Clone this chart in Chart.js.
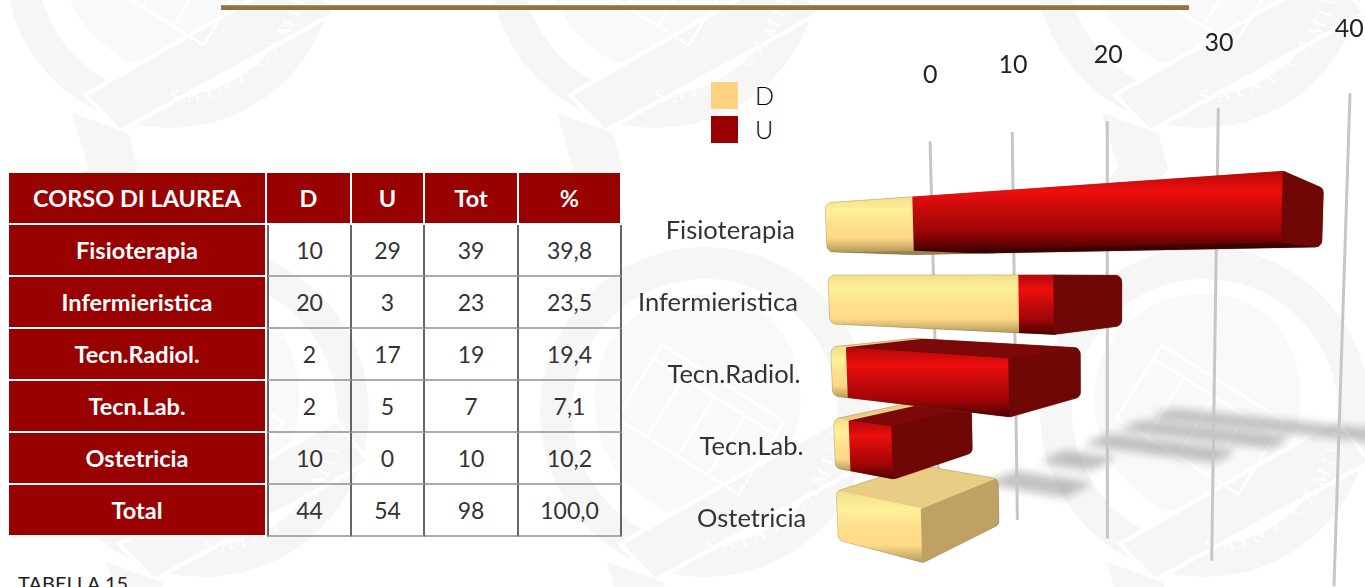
<!DOCTYPE html>
<html>
<head>
<meta charset="utf-8">
<title>Corso di laurea</title>
<script src="https://cdn.jsdelivr.net/npm/chart.js@4"></script>
<style>
    html, body { margin: 0; padding: 0; background: #fff; overflow: hidden; }
    body { position: relative; width: 1365px; height: 587px; font-family: Lato, sans-serif; }
    #seals { position: absolute; left: 0; top: 0; }
    #rule { position: absolute; left: 221px; top: 5px; width: 968px; height: 5px; background: #8c7542; border-top: 1px solid #a8935f; box-sizing: border-box; }
    #chart { position: absolute; left: 640px; top: 0; }
    #legend { position: absolute; left: 711px; top: 82px; }
    #legend div { position: relative; height: 27px; margin-bottom: 7px; }
    #legend i { position: absolute; left: 0; top: 0; width: 27px; height: 27px; }
    #legend span { position: absolute; left: 44px; top: 0; font-size: 25px; line-height: 27px; font-weight: 300; color: #000; }
    #dati { position: absolute; left: 9px; top: 173px; border-collapse: separate; border-spacing: 0; table-layout: fixed; width: 613px; }
    #dati th, #dati td { padding: 0; text-align: center; box-sizing: border-box; font-size: 23px; }
    #dati th { background: #990000; color: #fff; font-weight: 700; font-size: 23.5px; border-right: 2px solid #fff; border-bottom: 2px solid #fff; height: 52px; }
    #dati td { color: #333; height: 52px; border-right: 2px solid #666; border-bottom: 2px solid #aaa; }
    #dati tbody td:first-of-type { border-left: 2px solid #666; }
    #caption { position: absolute; left: 18px; top: 571px; font-size: 20px; color: #222; }
</style>
</head>
<body>
<svg id="seals" width="1365" height="587"></svg>
<div id="rule"></div>
<table id="dati"></table>
<div id="caption">TABELLA 15</div>
<div id="legend"></div>
<canvas id="chart" width="725" height="587"></canvas>

<script>
    // ===== Data =====
    const categories = ['Fisioterapia', 'Infermieristica', 'Tecn.Radiol.', 'Tecn.Lab.', 'Ostetricia'];
    const valuesD = [10, 20, 2, 2, 10];
    const valuesU = [29, 3, 17, 5, 0];
    const valuesTot = [39, 23, 19, 7, 10];
    const percentLabels = ['39,8', '23,5', '19,4', '7,1', '10,2'];
    const totalRow = ['Total', '44', '54', '98', '100,0'];
    const tableHead = ['CORSO DI LAUREA', 'D', 'U', 'Tot', '%'];
    const xTicks = [0, 10, 20, 30, 40];

    const colorD = '#ffd27f';
    const colorU = '#990000';

    // ===== Table =====
    const colWidths = [258, 85, 73, 94, 103];
    let html = '<colgroup>' + colWidths.map(w => '<col style="width:' + w + 'px">').join('') + '</colgroup>';
    html += '<thead><tr>' + tableHead.map(t => '<th>' + t + '</th>').join('') + '</tr></thead><tbody>';
    categories.forEach((name, i) => {
        html += '<tr><th>' + name + '</th><td>' + valuesD[i] + '</td><td>' + valuesU[i] + '</td><td>' +
            valuesTot[i] + '</td><td>' + percentLabels[i] + '</td></tr>';
    });
    html += '<tr><th>' + totalRow[0] + '</th>' + totalRow.slice(1).map(t => '<td>' + t + '</td>').join('') + '</tr></tbody>';
    document.getElementById('dati').innerHTML = html;

    // ===== Legend =====
    document.getElementById('legend').innerHTML =
        '<div><i style="background:' + colorD + '"></i><span>D</span></div>' +
        '<div><i style="background:' + colorU + '"></i><span>U</span></div>';

    // ===== Background seals =====
    const sealCentres = [[170, -37], [655, -37], [1200, -37], [204, 412], [705, 412], [1205, 412]];
    let seals = '<defs><path id="arc" d="M -140 0 A 140 140 0 0 0 140 0"/></defs>';
    sealCentres.forEach(c => {
        seals += '<g transform="translate(' + c[0] + ' ' + c[1] + ')">' +
            '<circle r="149" fill="none" stroke="#f6f6f6" stroke-width="32"/>' +
            '<path d="M 0 -118 C 70 -118 100 -60 95 0 C 90 50 40 85 -40 100 C -90 70 -115 30 -110 -30 C -100 -80 -60 -118 0 -118 Z" fill="#f9f9f9"/>' +
            '<path d="M -85 132 L -50 168 L 165 50 L 132 8 Z" fill="#f6f6f6" stroke="#fff" stroke-width="4"/>' +
            '<path d="M -98 150 L -42 170 L -32 206 L -72 250 L -125 250 L -82 205 Z" fill="#f6f6f6"/>' +
            '<g transform="rotate(32)" fill="none" stroke="#fff" stroke-width="2.5">' +
            '<path d="M -72 -34 L 72 -34 L 72 52 L -72 52 Z"/><path d="M -72 -18 L 72 -18 M -36 -18 L -36 52 M 0 -18 L 0 52 M 36 -18 L 36 52"/>' +
            '</g>' +
            '<text font-family="Liberation Serif" font-size="20" fill="#ffffff" letter-spacing="6"><textPath href="#arc" startOffset="50%">SAINT CAMILLUS</textPath></text>' +
            '</g>';
    });
    document.getElementById('seals').innerHTML = seals;

    // ===== Perspective of the 3D chart =====
    const CANVAS_LEFT = 640;
    const ORIGIN_X = 830, HORIZON = 275, HEIGHT_SCALE = 1030;
    const PERSP_U = 0.3136, PERSP_D = 0.175, RUN_U = 320.4, RUN_D = 120, TILT = 0.00014;

    function flatX(u, d) {
        return ORIGIN_X + (RUN_U * u + RUN_D * d) / (1 - PERSP_U * u + PERSP_D * d);
    }

    function project(u, h, d) {
        const y = HORIZON + h * HEIGHT_SCALE / (1 - PERSP_U * u + PERSP_D * d);
        let x = flatX(u, d);
        x -= (x - 1110) * (y - 330) * TILT;
        return [x - CANVAS_LEFT, y];
    }

    function quad(ctx, pts, fill) {
        ctx.beginPath();
        pts.forEach((p, i) => i ? ctx.lineTo(p[0], p[1]) : ctx.moveTo(p[0], p[1]));
        ctx.closePath();
        ctx.fillStyle = fill;
        ctx.strokeStyle = fill;
        ctx.lineWidth = 2;
        ctx.lineJoin = 'round';
        ctx.fill();
        ctx.stroke();
    }

    function vGradient(ctx, top, bottom, stops) {
        const g = ctx.createLinearGradient(0, top, 0, bottom);
        stops.forEach((s, i) => g.addColorStop(i / (stops.length - 1), s));
        return g;
    }

    // outline of a bar, so the corners can be rounded like in the picture
    function convexHull(points) {
        const pts = points.slice().sort((a, b) => a[0] - b[0] || a[1] - b[1]);
        const cross = (o, a, b) => (a[0] - o[0]) * (b[1] - o[1]) - (a[1] - o[1]) * (b[0] - o[0]);
        const lower = [], upper = [];
        pts.forEach(p => {
            while (lower.length > 1 && cross(lower[lower.length - 2], lower[lower.length - 1], p) <= 0) lower.pop();
            lower.push(p);
        });
        pts.slice().reverse().forEach(p => {
            while (upper.length > 1 && cross(upper[upper.length - 2], upper[upper.length - 1], p) <= 0) upper.pop();
            upper.push(p);
        });
        return lower.slice(0, -1).concat(upper.slice(0, -1));
    }

    function roundedPath(ctx, pts, radius) {
        const n = pts.length;
        ctx.beginPath();
        ctx.moveTo((pts[n - 1][0] + pts[0][0]) / 2, (pts[n - 1][1] + pts[0][1]) / 2);
        pts.forEach((p, i) => {
            const next = pts[(i + 1) % n];
            ctx.arcTo(p[0], p[1], (p[0] + next[0]) / 2, (p[1] + next[1]) / 2, radius);
        });
        ctx.closePath();
    }

    const BAR_DEPTH = 0.8, GRID_DEPTH = 1.03, FIRST_H = -0.0463, BAND_H = 0.07, FLOOR_H = 0.262;
    const shades = [
        { front: ['#f3de8a', '#fff09a', '#ffe08c', '#ffd988', '#b39a5c'], top: '#e9cd84', cap: '#bfa163', bottom: '#9a8450' },
        { front: ['#b50808', '#ee0e0e', '#c20a0a', '#a00606', '#4a0000'], top: '#7d0808', cap: '#700707', bottom: '#3d0000' }
    ];

    const perspectivePlugin = {
        id: 'perspective',
        beforeDatasetsDraw(chart) {
            const ctx = chart.ctx;
            const xs = chart.scales.x, ys = chart.scales.y;
            const toU = px => (px - xs.left) / (xs.right - xs.left);
            const band = ys.getPixelForValue(1) - ys.getPixelForValue(0);
            const toH = px => FIRST_H + (px - ys.getPixelForValue(0)) / band * BAND_H;
            const metas = chart.data.datasets.map((ds, i) => chart.getDatasetMeta(i));
            const count = categories.length;

            // shadows on the floor, one strip per course
            ctx.save();
            ctx.filter = 'blur(4px)';
            for (let i = 0; i < count; i++) {
                const end = toU(Math.max(metas[0].data[i].x, metas[1].data[i].x));
                const row = count - 1 - i;
                const d = 1.9 + 0.88 * row;
                const t = 0.2 + 0.02 * row;
                quad(ctx, [project(0, FLOOR_H, d - t), project(end, FLOOR_H, d - t), project(end, FLOOR_H, d + t), project(0, FLOOR_H, d + t)], 'rgba(110,110,110,0.42)');
            }
            ctx.restore();

            // grid lines and axis labels
            xs.ticks.forEach(t => {
                const u = toU(xs.getPixelForValue(t.value));
                const a = project(u, -0.153, GRID_DEPTH), b = project(u, FLOOR_H, GRID_DEPTH);
                ctx.beginPath();
                ctx.moveTo(a[0], a[1]);
                ctx.lineTo(b[0], b[1]);
                ctx.strokeStyle = '#c6c6c6';
                ctx.lineWidth = 3;
                ctx.stroke();
                // labels climb less steeply than the lines, so they sit further back
                const ly = project(u, -0.3265, 3.9)[1];
                ctx.fillStyle = '#222';
                ctx.font = '400 25px Lato';
                ctx.textAlign = 'center';
                ctx.textBaseline = 'middle';
                ctx.fillText(t.label, flatX(u, 1) - CANVAS_LEFT - 2 + 10 * u, ly);
            });

            // category labels
            categories.forEach((name, i) => {
                const l = project(0, toH(ys.getPixelForValue(i)), 0);
                ctx.fillStyle = '#333';
                ctx.font = '400 25.5px Lato';
                ctx.textAlign = 'right';
                ctx.textBaseline = 'middle';
                ctx.fillText(ys.getLabelForValue(i), l[0] - 31, l[1] + 3);
            });

            // bars, bottom row first so that upper bars cover the top of lower ones
            for (let i = count - 1; i >= 0; i--) {
                const first = metas[0].data[i];
                const hTop = toH(first.y - first.height / 2);
                const hBot = toH(first.y + first.height / 2);
                const segments = metas.map((meta, s) => ({ s: s, u0: toU(meta.data[i].base), u1: toU(meta.data[i].x) })).filter(seg => seg.u1 > seg.u0);
                const uEnd = segments[segments.length - 1].u1;
                const corners = [];
                [0, uEnd].forEach(u => [hTop, hBot].forEach(h => [0, BAR_DEPTH].forEach(d => corners.push(project(u, h, d)))));
                const hull = convexHull(corners);

                ctx.save();
                roundedPath(ctx, hull, 7);
                ctx.clip();
                segments.forEach(seg => {
                    const st = shades[seg.s];
                    if (hBot < 0) {
                        quad(ctx, [project(seg.u0, hBot, 0), project(seg.u1, hBot, 0), project(seg.u1, hBot, BAR_DEPTH), project(seg.u0, hBot, BAR_DEPTH)], st.bottom);
                    }
                    if (hTop > 0) {
                        quad(ctx, [project(seg.u0, hTop, 0), project(seg.u1, hTop, 0), project(seg.u1, hTop, BAR_DEPTH), project(seg.u0, hTop, BAR_DEPTH)], st.top);
                    }
                });
                segments.forEach(seg => {
                    const a = project(seg.u0, hTop, 0), b = project(seg.u1, hTop, 0), c = project(seg.u1, hBot, 0), e = project(seg.u0, hBot, 0);
                    quad(ctx, [a, b, c, e], vGradient(ctx, Math.min(a[1], b[1]), Math.max(c[1], e[1]), shades[seg.s].front));
                });
                const lastShade = shades[segments[segments.length - 1].s];
                quad(ctx, [project(uEnd, hTop, 0), project(uEnd, hTop, BAR_DEPTH), project(uEnd, hBot, BAR_DEPTH), project(uEnd, hBot, 0)], lastShade.cap);
                ctx.restore();

                roundedPath(ctx, hull, 7);
                ctx.strokeStyle = 'rgba(90,80,50,0.25)';
                ctx.lineWidth = 1;
                ctx.stroke();
            }
            return false;
        }
    };

    // ===== Chart =====
    new Chart(document.getElementById('chart'), {
        type: 'bar',
        data: {
            labels: categories,
            datasets: [
                { label: 'D', data: valuesD, backgroundColor: colorD, stack: 'corso', barPercentage: 0.68, categoryPercentage: 1 },
                { label: 'U', data: valuesU, backgroundColor: colorU, stack: 'corso', barPercentage: 0.68, categoryPercentage: 1 }
            ]
        },
        options: {
            indexAxis: 'y',
            responsive: false,
            animation: false,
            layout: { padding: 0 },
            plugins: { legend: { display: false }, tooltip: { enabled: false } },
            scales: {
                x: { display: false, stacked: true, position: 'top', min: xTicks[0], max: xTicks[xTicks.length - 1], ticks: { stepSize: 10 } },
                y: { display: false, stacked: true }
            }
        },
        plugins: [perspectivePlugin]
    });
</script>
</body>
</html>
